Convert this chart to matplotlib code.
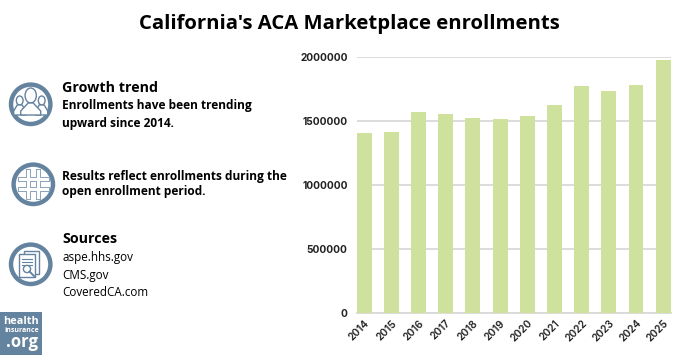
import matplotlib
matplotlib.use("Agg")
import matplotlib.pyplot as plt
from matplotlib.patches import Circle, Rectangle, Polygon, Ellipse

# Data
years = ["2014", "2015", "2016", "2017", "2018", "2019", "2020", "2021", "2022", "2023", "2024", "2025"]
enrollments = [1405000, 1412000, 1574000, 1556000, 1522000, 1514000, 1538000, 1627000, 1778000, 1739000, 1786000, 1979000]
y_ticks = [0, 500000, 1000000, 1500000, 2000000]
source_names = ["aspe.hhs.gov", "CMS.gov", "CoveredCA.com"]

title = "California's ACA Marketplace enrollments"
blue = "#64839f"
green = "#cfe29d"
W, H = 700, 355

fig = plt.figure(figsize=(7, 3.55), dpi=100)

# Bar chart
ax = fig.add_axes([356.7 / W, (H - 312.7) / H, 314 / W, 255.4 / H])
ax.bar(range(len(years)), enrollments, width=0.55, color=green, zorder=3)
ax.set_xlim(-0.276, 11.276)
ax.set_ylim(0, 2000000)
ax.set_yticks(y_ticks)
ax.set_yticklabels([str(v) for v in y_ticks], fontsize=7.3, fontfamily="Inter", fontweight="bold", color="#222222")
ax.set_xticks(range(len(years)))
ax.set_xticklabels(years, rotation=45, ha="right", rotation_mode="anchor", fontsize=7.4,
                   fontfamily="Inter", fontweight="semibold", color="#222222")
ax.tick_params(axis="both", length=0)
ax.tick_params(axis="y", pad=6.5)
ax.tick_params(axis="x", pad=4)
ax.grid(axis="y", color="#d9d9d9", lw=1.3, zorder=0)
ax.set_axisbelow(True)
for side in ["top", "right", "left"]:
    ax.spines[side].set_visible(False)
ax.spines["bottom"].set_color("#d9d9d9")
ax.spines["bottom"].set_linewidth(1.3)

# Overlay in pixel coordinates for the text and icons
ov = fig.add_axes([0, 0, 1, 1], zorder=5)
ov.set_xlim(0, W)
ov.set_ylim(H, 0)
ov.axis("off")


def put(x, y, s, size, weight="bold", **kw):
    ov.text(x, y, s, fontsize=size, fontweight=weight, fontfamily="Open Sans", color="black", va="center", **kw)


ov.text(349.5, 24, title, fontsize=14.6, fontweight="bold", fontfamily="Open Sans", color="black", ha="center", va="center")

put(62, 88, "Growth trend", 10.3)
put(62, 105.5, "Enrollments have been trending", 8.55)
put(62, 123, "upward since 2014.", 8.55)
put(62, 176.5, "Results reflect enrollments during the", 8.55)
put(62, 192, "open enrollment period.", 8.55)
put(62, 239, "Sources", 10.3)
for i, name in enumerate(source_names):
    put(62.5, 257.5 + i * 17.6, name, 8.4, weight="normal")


def ring(cx, cy):
    ov.add_patch(Circle((cx, cy), 19.7, fc="white", ec=blue, lw=3.2))


# people icon
ring(30.7, 104.3)
for dx, ry, top, w in [(-11, 4.5, 96, 6), (11, 4.5, 96, 6), (0, 7.5, 88, 10)]:
    cx = 30.7 + dx
    ov.add_patch(Ellipse((cx, top + ry), ry * 1.5, ry * 2, fc="white", ec=blue, lw=1, zorder=3))
    ov.add_patch(Polygon([(cx - w, 115), (cx - w, 111), (cx - 2.5, top + 2 * ry), (cx + 2.5, top + 2 * ry),
                          (cx + w, 111), (cx + w, 115)], fc="white", ec=blue, lw=1, zorder=3))

# hash icon
ring(33.3, 184.3)
for off in [-5, 5]:
    ov.plot([33.3 + off, 33.3 + off], [171, 197], color="#8ca3b8", lw=3.6, zorder=3)
    ov.plot([20, 47], [184.3 + off, 184.3 + off], color="#8ca3b8", lw=3.6, zorder=3)
for off in [-5, 5]:
    ov.plot([33.3 + off, 33.3 + off], [171, 197], color="white", lw=2.2, zorder=4)
    ov.plot([20, 47], [184.3 + off, 184.3 + off], color="white", lw=2.2, zorder=4)

# document icon
ring(30.7, 264.3)
ov.add_patch(Rectangle((24, 251), 15, 23, fc="white", ec=blue, lw=1, zorder=3))
ov.add_patch(Rectangle((19, 254), 16, 23, fc="white", ec=blue, lw=1, zorder=4))
for yy in [259, 262, 265]:
    ov.plot([22, 32], [yy, yy], color=blue, lw=0.8, zorder=5)
ov.add_patch(Circle((27, 269), 3.6, fc="white", ec=blue, lw=1, zorder=5))
ov.plot([29.5, 34], [271.5, 276], color=blue, lw=1.4, zorder=5)

# logo
ov.add_patch(Rectangle((0, 312), 42, 43, fc=blue, ec="none"))
ov.text(21.5, 321, "health", fontsize=7.8, fontweight="bold", fontfamily="Open Sans", color="white", ha="center", va="center")
ov.text(21.5, 330.5, "insurance", fontsize=5, fontweight="bold", fontfamily="Open Sans", color="white", ha="center", va="center")
ov.text(22, 342, ".org", fontsize=12, fontweight="bold", fontfamily="Open Sans", color="white", ha="center", va="center")

fig.savefig("out.png", dpi=100)
